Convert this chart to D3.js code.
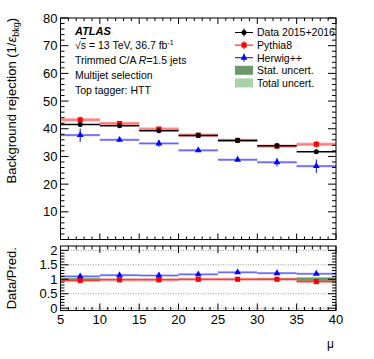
<!DOCTYPE html>
<html>
<head>
<meta charset="utf-8">
<script src="https://cdn.jsdelivr.net/npm/d3@7"></script>
<style>
  body { margin: 0; background: #fff; }
  svg { display: block; font-family: "Liberation Sans", Arial, sans-serif; }
</style>
</head>
<body>
<div id="chart"></div>
<script>
// bin edges in mu
const binEdges = [5, 10, 15, 20, 25, 30, 35, 40];

// background rejection per bin
const dataVals = [41.5, 41.1, 39.3, 37.6, 35.8, 33.9, 31.7];
const dataErr = [0.6, 0.5, 0.5, 0.4, 0.5, 0.6, 0.8];
const pythiaVals = [43.2, 41.9, 39.9, 37.7, 35.8, 33.7, 34.4];
const pythiaErr = [1.2, 0.6, 0.5, 0.4, 0.5, 0.7, 1.2];
const herwigVals = [37.7, 36.0, 34.7, 32.2, 28.8, 27.9, 26.5];
const herwigErr = [2.4, 0.7, 1.2, 0.4, 0.5, 1.5, 2.4];

// ratio panel
const ratioPythia = [0.96, 0.98, 0.98, 1.0, 1.0, 1.0, 0.92];
const ratioHerwig = [1.10, 1.14, 1.13, 1.17, 1.24, 1.21, 1.19];
const statUnc = [0.03, 0.01, 0.01, 0.01, 0.01, 0.02, 0.05];
const totalUnc = [0.05, 0.015, 0.015, 0.012, 0.015, 0.03, 0.075];

const xTicks = [5, 10, 15, 20, 25, 30, 35, 40];
const yTicks = [10, 20, 30, 40, 50, 60, 70, 80];
const ratioTicks = [0, 0.5, 1, 1.5, 2];

const infoLines = ['Trimmed C/A', 'Multijet selection', 'Top tagger: HTT'];

const width = 374, height = 359;
const svg = d3.select('#chart').append('svg')
  .attr('width', width)
  .attr('height', height);

const x = d3.scaleLinear().domain([5, 40]).range([60.5, 336]);
const y = d3.scaleLinear().domain([0, 80]).range([239.5, 18]);
const yr = d3.scaleLinear().domain([-0.08, 2.15]).range([310.5, 246]);

const bins = d3.range(binEdges.length - 1).map(i => ({
  i, lo: binEdges[i], hi: binEdges[i + 1], mid: (binEdges[i] + binEdges[i + 1]) / 2
}));

// ---------- ticks helper ----------
function drawTicks(g, scale, values, len, side, a0, a1) {
  // side: 'left' | 'right' | 'bottom' | 'top'
  values.forEach(v => {
    const p = scale(v);
    let line;
    if (side === 'left') line = [a0, p, a0 + len, p];
    if (side === 'right') line = [a1, p, a1 - len, p];
    if (side === 'bottom') line = [p, a1, p, a1 - len];
    if (side === 'top') line = [p, a0, p, a0 + len];
    g.append('line')
      .attr('x1', line[0]).attr('y1', line[1])
      .attr('x2', line[2]).attr('y2', line[3])
      .attr('stroke', '#000').attr('stroke-width', 1);
  });
}

// ---------- main panel ----------
const main = svg.append('g');

// MC horizontal boxes
main.selectAll('.pyBox').data(bins).join('rect')
  .attr('x', d => x(d.lo)).attr('width', d => x(d.hi) - x(d.lo))
  .attr('y', d => y(pythiaVals[d.i]) - 1.6).attr('height', 3.2)
  .attr('fill', '#ff9a9a');
main.selectAll('.pyLine').data(bins).join('line')
  .attr('x1', d => x(d.lo)).attr('x2', d => x(d.hi))
  .attr('y1', d => y(pythiaVals[d.i])).attr('y2', d => y(pythiaVals[d.i]))
  .attr('stroke', '#ff7070').attr('stroke-width', 1);

main.selectAll('.hwBox').data(bins).join('rect')
  .attr('x', d => x(d.lo)).attr('width', d => x(d.hi) - x(d.lo))
  .attr('y', d => y(herwigVals[d.i]) - 1.1).attr('height', 2.2)
  .attr('fill', '#9a9aff');
main.selectAll('.hwLine').data(bins).join('line')
  .attr('x1', d => x(d.lo)).attr('x2', d => x(d.hi))
  .attr('y1', d => y(herwigVals[d.i])).attr('y2', d => y(herwigVals[d.i]))
  .attr('stroke', '#6060ff').attr('stroke-width', 1);

// error bars
main.selectAll('.pyErr').data(bins).join('line')
  .attr('x1', d => x(d.mid)).attr('x2', d => x(d.mid))
  .attr('y1', d => y(pythiaVals[d.i] - pythiaErr[d.i])).attr('y2', d => y(pythiaVals[d.i] + pythiaErr[d.i]))
  .attr('stroke', '#ff0000').attr('stroke-width', 1);
main.selectAll('.hwErr').data(bins).join('line')
  .attr('x1', d => x(d.mid)).attr('x2', d => x(d.mid))
  .attr('y1', d => y(herwigVals[d.i] - herwigErr[d.i])).attr('y2', d => y(herwigVals[d.i] + herwigErr[d.i]))
  .attr('stroke', '#0000ff').attr('stroke-width', 1);

// data
main.selectAll('.dLine').data(bins).join('line')
  .attr('x1', d => x(d.lo)).attr('x2', d => x(d.hi))
  .attr('y1', d => y(dataVals[d.i])).attr('y2', d => y(dataVals[d.i]))
  .attr('stroke', '#000').attr('stroke-width', 1.5);
main.selectAll('.dErr').data(bins).join('line')
  .attr('x1', d => x(d.mid)).attr('x2', d => x(d.mid))
  .attr('y1', d => y(dataVals[d.i] - dataErr[d.i])).attr('y2', d => y(dataVals[d.i] + dataErr[d.i]))
  .attr('stroke', '#000').attr('stroke-width', 1);

// markers
const sq = d3.symbol().type(d3.symbolSquare).size(26);
const tri = d3.symbol().type(d3.symbolTriangle).size(20);
const circ = d3.symbol().type(d3.symbolCircle).size(20);
main.selectAll('.pyM').data(bins).join('path')
  .attr('d', sq).attr('fill', '#ff0000')
  .attr('transform', d => `translate(${x(d.mid)},${y(pythiaVals[d.i])})`);
main.selectAll('.hwM').data(bins).join('path')
  .attr('d', tri).attr('fill', '#0000ff')
  .attr('transform', d => `translate(${x(d.mid)},${y(herwigVals[d.i])})`);
main.selectAll('.dM').data(bins).join('path')
  .attr('d', circ).attr('fill', '#000')
  .attr('transform', d => `translate(${x(d.mid)},${y(dataVals[d.i])})`);

// frame
const x0 = x(5), x1 = x(40);
main.append('rect')
  .attr('x', x0).attr('y', y(80)).attr('width', x1 - x0).attr('height', y(0) - y(80))
  .attr('fill', 'none').attr('stroke', '#000').attr('stroke-width', 1);

const minorY = d3.range(0, 81, 2).filter(v => v % 10 !== 0);
drawTicks(main, y, yTicks, 8, 'left', x0, x1);
drawTicks(main, y, minorY, 4, 'left', x0, x1);
drawTicks(main, y, yTicks, 8, 'right', x0, x1);
drawTicks(main, y, minorY, 4, 'right', x0, x1);
const minorX = d3.range(5, 41, 1).filter(v => v % 5 !== 0);
drawTicks(main, x, xTicks, 6, 'bottom', y(80), y(0));
drawTicks(main, x, minorX, 3, 'bottom', y(80), y(0));
drawTicks(main, x, xTicks, 6, 'top', y(80), y(0));
drawTicks(main, x, minorX, 3, 'top', y(80), y(0));

main.selectAll('.yLab').data(yTicks).join('text')
  .attr('x', x0 - 3).attr('y', d => y(d) + 4.5)
  .attr('text-anchor', 'end').attr('font-size', 13).text(d => d);

main.append('text')
  .attr('transform', `translate(16,${y(80)}) rotate(-90)`)
  .attr('text-anchor', 'end').attr('font-size', 13)
  .html('Background rejection (1/<tspan font-style="italic">ε</tspan><tspan font-size="9" dy="3">bkg</tspan><tspan dy="-3">)</tspan>');

// labels in plot
main.append('text').attr('x', 75).attr('y', 35)
  .attr('font-size', 11).attr('font-weight', 'bold').attr('font-style', 'italic').text('ATLAS');
main.append('text').attr('x', 75).attr('y', 49).attr('font-size', 10.5)
  .html('√<tspan text-decoration="overline">s</tspan> = 13 TeV, 36.7 fb<tspan font-size="7" dy="-4">-1</tspan>');
main.append('text').attr('x', 75).attr('y', 64).attr('font-size', 10.5)
  .html(infoLines[0] + ' <tspan font-style="italic">R</tspan>=1.5 jets');
main.selectAll('.info').data(infoLines.slice(1)).join('text')
  .attr('x', 75).attr('y', (d, i) => 79 + i * 14.5).attr('font-size', 10.5).text(d => d);

// legend
const legendItems = [
  { label: 'Data 2015+2016', type: 'line', color: '#000', sym: circ },
  { label: 'Pythia8', type: 'line', color: '#ff0000', sym: sq },
  { label: 'Herwig++', type: 'line', color: '#0000ff', sym: tri },
  { label: 'Stat. uncert.', type: 'box', color: '#6a9a6a' },
  { label: 'Total uncert.', type: 'box', color: '#a6d2a6' },
];
const legend = svg.append('g');
legendItems.forEach((it, i) => {
  const ly = 32.5 + i * 12.6;
  if (it.type === 'line') {
    legend.append('line').attr('x1', 235).attr('x2', 253).attr('y1', ly).attr('y2', ly)
      .attr('stroke', it.color).attr('stroke-width', 1);
    legend.append('line').attr('x1', 244).attr('x2', 244).attr('y1', ly - 4).attr('y2', ly + 4)
      .attr('stroke', it.color).attr('stroke-width', 1);
    legend.append('path').attr('d', it.sym).attr('fill', it.color)
      .attr('transform', `translate(244,${ly})`);
  } else {
    legend.append('rect').attr('x', 235).attr('y', ly - 4.5).attr('width', 18).attr('height', 9)
      .attr('fill', it.color);
  }
  legend.append('text').attr('x', 257).attr('y', ly + 3.8).attr('font-size', 10.5).text(it.label);
});

// ---------- ratio panel ----------
const rp = svg.append('g');

rp.selectAll('.grid').data(ratioTicks).join('line')
  .attr('x1', x0).attr('x2', x1).attr('y1', d => yr(d)).attr('y2', d => yr(d))
  .attr('stroke', '#999').attr('stroke-width', 1).attr('stroke-dasharray', '1,1.5');

rp.selectAll('.tot').data(bins).join('rect')
  .attr('x', d => x(d.lo)).attr('width', d => x(d.hi) - x(d.lo))
  .attr('y', d => yr(1 + totalUnc[d.i])).attr('height', d => yr(1 - totalUnc[d.i]) - yr(1 + totalUnc[d.i]))
  .attr('fill', '#a6d2a6');
rp.selectAll('.stat').data(bins).join('rect')
  .attr('x', d => x(d.lo)).attr('width', d => x(d.hi) - x(d.lo))
  .attr('y', d => yr(1 + statUnc[d.i])).attr('height', d => yr(1 - statUnc[d.i]) - yr(1 + statUnc[d.i]))
  .attr('fill', '#6a9a6a');

rp.selectAll('.rpBox').data(bins).join('rect')
  .attr('x', d => x(d.lo)).attr('width', d => x(d.hi) - x(d.lo))
  .attr('y', d => yr(ratioPythia[d.i]) - 1.5).attr('height', 3)
  .attr('fill', '#ff4040').attr('fill-opacity', 0.45);
rp.selectAll('.rpLine').data(bins).join('line')
  .attr('x1', d => x(d.lo)).attr('x2', d => x(d.hi))
  .attr('y1', d => yr(ratioPythia[d.i])).attr('y2', d => yr(ratioPythia[d.i]))
  .attr('stroke', '#ff3030').attr('stroke-width', 1);

rp.selectAll('.rhBox').data(bins).join('rect')
  .attr('x', d => x(d.lo)).attr('width', d => x(d.hi) - x(d.lo))
  .attr('y', d => yr(ratioHerwig[d.i]) - 1).attr('height', 2)
  .attr('fill', '#9a9aff');
rp.selectAll('.rhLine').data(bins).join('line')
  .attr('x1', d => x(d.lo)).attr('x2', d => x(d.hi))
  .attr('y1', d => yr(ratioHerwig[d.i])).attr('y2', d => yr(ratioHerwig[d.i]))
  .attr('stroke', '#6060ff').attr('stroke-width', 1);

rp.selectAll('.rpM').data(bins).join('path')
  .attr('d', sq).attr('fill', '#ff0000')
  .attr('transform', d => `translate(${x(d.mid)},${yr(ratioPythia[d.i])})`);
rp.selectAll('.rhM').data(bins).join('path')
  .attr('d', tri).attr('fill', '#0000ff')
  .attr('transform', d => `translate(${x(d.mid)},${yr(ratioHerwig[d.i])})`);

const r0 = yr.range()[1], r1 = yr.range()[0];
rp.append('rect')
  .attr('x', x0).attr('y', r0).attr('width', x1 - x0).attr('height', r1 - r0)
  .attr('fill', 'none').attr('stroke', '#000').attr('stroke-width', 1);

const minorR = d3.range(0, 21, 1).map(v => v / 10).filter(v => Math.round(v * 10) % 5 !== 0);
drawTicks(rp, yr, ratioTicks, 8, 'left', x0, x1);
drawTicks(rp, yr, minorR, 4, 'left', x0, x1);
drawTicks(rp, yr, ratioTicks, 8, 'right', x0, x1);
drawTicks(rp, yr, minorR, 4, 'right', x0, x1);
drawTicks(rp, x, xTicks, 7, 'bottom', r0, r1);
drawTicks(rp, x, minorX, 3.5, 'bottom', r0, r1);
drawTicks(rp, x, xTicks, 7, 'top', r0, r1);
drawTicks(rp, x, minorX, 3.5, 'top', r0, r1);

rp.selectAll('.rLab').data(ratioTicks).join('text')
  .attr('x', x0 - 3).attr('y', d => yr(d) + 4.5)
  .attr('text-anchor', 'end').attr('font-size', 13).text(d => d);
rp.selectAll('.xLab').data(xTicks).join('text')
  .attr('x', d => x(d)).attr('y', 324)
  .attr('text-anchor', 'middle').attr('font-size', 13).text(d => d);

rp.append('text')
  .attr('transform', `translate(16,${(r0 + r1) / 2}) rotate(-90)`)
  .attr('text-anchor', 'middle').attr('font-size', 13).text('Data/Pred.');

rp.append('text').attr('x', 327).attr('y', 348).attr('font-size', 12).text('μ');
</script>
</body>
</html>
